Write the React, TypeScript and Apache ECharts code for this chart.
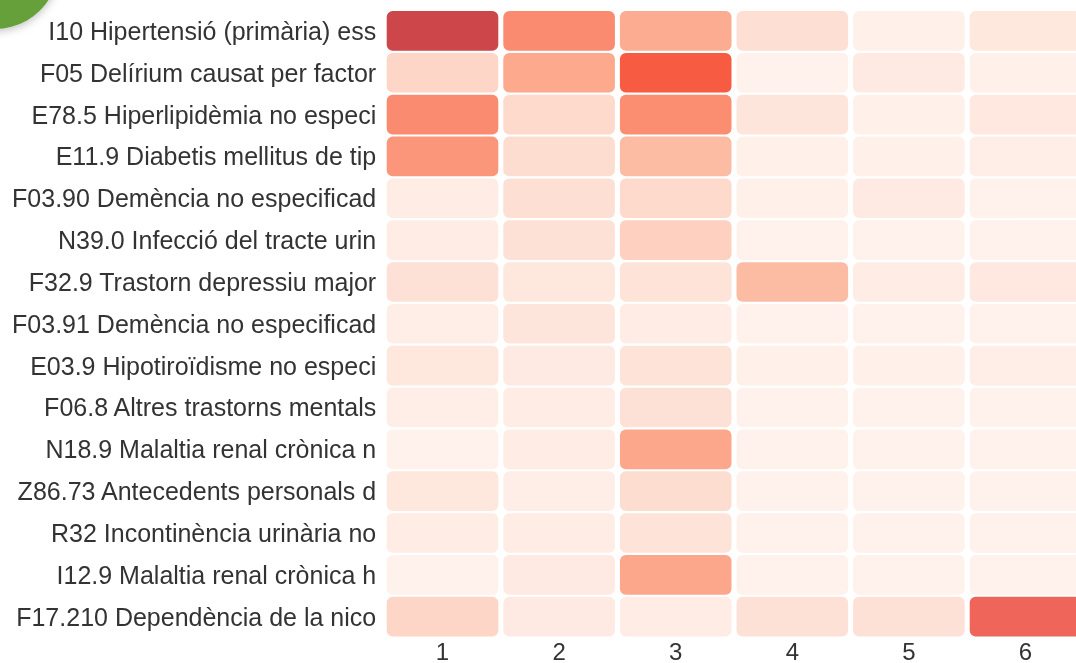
import React, { useEffect, useRef } from "react";
import * as echarts from "echarts";

const diagnoses = [
  "I10 Hipertensió (primària) ess",
  "F05 Delírium causat per factor",
  "E78.5 Hiperlipidèmia no especi",
  "E11.9 Diabetis mellitus de tip",
  "F03.90 Demència no especificad",
  "N39.0 Infecció del tracte urin",
  "F32.9 Trastorn depressiu major",
  "F03.91 Demència no especificad",
  "E03.9 Hipotiroïdisme no especi",
  "F06.8 Altres trastorns mentals",
  "N18.9 Malaltia renal crònica n",
  "Z86.73 Antecedents personals d",
  "R32 Incontinència urinària no",
  "I12.9 Malaltia renal crònica h",
  "F17.210 Dependència de la nico",
];

const clusters = ["1", "2", "3", "4", "5", "6"];

// one array per diagnosis, values per cluster 1..6
const valI10 = [100, 48, 33, 12, 3, 8];
const valF05 = [17, 34, 70, 2, 6, 3];
const valE785 = [48, 15, 47, 9, 3, 7];
const valE119 = [42, 13, 27, 3, 3, 4];
const valF0390 = [5, 12, 15, 3, 6, 2];
const valN390 = [5, 11, 20, 2, 2, 2];
const valF329 = [11, 8, 10, 27, 5, 7];
const valF0391 = [4, 9, 5, 2, 2, 2];
const valE039 = [8, 6, 10, 3, 3, 4];
const valF068 = [4, 5, 11, 2, 2, 2];
const valN189 = [2, 5, 35, 2, 2, 2];
const valZ8673 = [8, 4, 13, 2, 2, 2];
const valR32 = [5, 5, 10, 2, 2, 2];
const valI129 = [2, 6, 35, 2, 2, 2];
const valF17210 = [17, 6, 5, 11, 11, 60];

const rows = [
  valI10, valF05, valE785, valE119, valF0390, valN390, valF329, valF0391,
  valE039, valF068, valN189, valZ8673, valR32, valI129, valF17210,
];

const colorStops = [
  "#fff5f1", "#fee3d8", "#fdd0bf", "#fcb398", "#fc9a7e", "#fb876c",
  "#f0655a", "#f75c43", "#eb5445", "#dc4c48", "#cd474a",
];

export default function App() {
  const ref = useRef<HTMLDivElement>(null);
  useEffect(() => {
    if (!ref.current) return;
    const chart = echarts.init(ref.current, null, { renderer: "svg" });
    const data: number[][] = [];
    rows.forEach((r, yi) => r.forEach((v, xi) => data.push([xi, yi, v])));
    const font = "'Liberation Sans', Arial, sans-serif";
    chart.setOption({
      animation: false,
      grid: {
        left: 384.2,
        width: 699.6,
        top: 10,
        height: 627.6,
        outerBoundsMode: "none",
        containLabel: false,
      },
      xAxis: {
        type: "category",
        data: clusters,
        axisLine: { show: false },
        axisTick: { show: false },
        splitLine: { show: false },
        axisLabel: {
          color: "#333",
          fontSize: 24,
          lineHeight: 20,
          fontFamily: font,
          margin: 3.4,
        },
      },
      yAxis: {
        type: "category",
        data: diagnoses,
        inverse: true,
        axisLine: { show: false },
        axisTick: { show: false },
        splitLine: { show: false },
        axisLabel: { color: "#333", fontSize: 25, fontFamily: font, margin: 8 },
      },
      visualMap: {
        show: false,
        type: "continuous",
        min: 0,
        max: 100,
        dimension: 2,
        seriesIndex: 0,
        inRange: { color: colorStops },
      },
      series: [
        {
          type: "custom",
          data,
          encode: { x: 0, y: 1 },
          renderItem: (params: any, api: any) => {
            const p = api.coord([api.value(0), api.value(1)]);
            const s = api.size([1, 1]);
            const padX = 2.5;
            const padY = 1.1;
            return {
              type: "rect",
              shape: {
                x: p[0] - s[0] / 2 + padX,
                y: p[1] - s[1] / 2 + padY,
                width: s[0] - padX * 2,
                height: s[1] - padY * 2,
                r: 6,
              },
              style: { fill: api.visual("color") },
            };
          },
        },
      ],
      graphic: [
        {
          type: "circle",
          shape: { cx: -5, cy: -35, r: 64 },
          style: {
            fill: "#66a03a",
            shadowBlur: 8,
            shadowColor: "rgba(0,0,0,0.25)",
            shadowOffsetY: 2,
          },
          z: 100,
        },
      ],
    });
    return () => chart.dispose();
  }, []);
  return (
    <div
      ref={ref}
      style={{ position: "fixed", left: 0, top: 0, width: 1076, height: 663 }}
    />
  );
}
